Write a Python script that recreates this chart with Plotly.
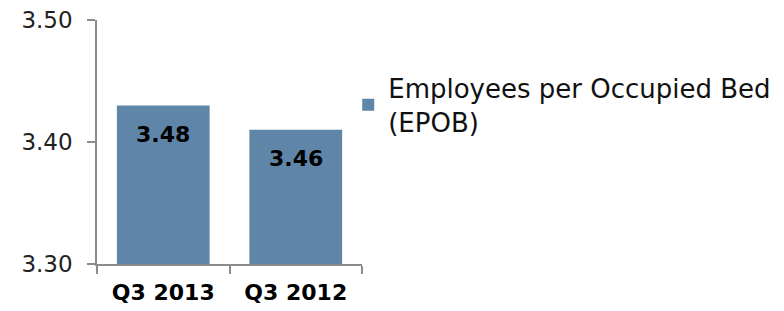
import plotly.graph_objects as go

categories = ["Q3 2013", "Q3 2012"]
bar_values = [3.43, 3.41]
bar_labels = ["3.48", "3.46"]
series_name = "Employees per Occupied Bed<br>(EPOB)"
y_ticks = [3.30, 3.40, 3.50]
y_tick_labels = ["3.30", "3.40", "3.50"]

FONT = "DejaVu Sans"
BAR_COLOR = "#5F86A8"
AXIS_COLOR = "#8C8C8C"

fig = go.Figure()
fig.add_trace(go.Bar(
    x=categories, y=bar_values, name=series_name,
    marker=dict(color=BAR_COLOR, line=dict(width=0)),
    width=0.7,
    showlegend=True,
))

for c, v, t in zip(categories, bar_values, bar_labels):
    fig.add_annotation(x=c, y=v, text="<b>%s</b>" % t, showarrow=False,
                       yanchor="middle", yshift=-29,
                       font=dict(family=FONT, size=22, color="#000000"))

fig.update_layout(
    width=776, height=303,
    margin=dict(l=89, r=422, t=12, b=47, autoexpand=False),
    paper_bgcolor="white", plot_bgcolor="white",
    font=dict(family=FONT, color="#000000"),
    bargap=0.3,
    legend=dict(x=0.948, y=0.818, xanchor="left", yanchor="top",
                font=dict(family=FONT, size=26, color="#111111"),
                itemwidth=30, tracegroupgap=0, bgcolor="rgba(0,0,0,0)"),
    xaxis=dict(
        showline=True, linecolor=AXIS_COLOR, linewidth=1.5,
        ticks="outside", ticklen=8, tickcolor=AXIS_COLOR, tickwidth=1.5,
        tickson="boundaries", ticklabelstandoff=8,
        tickfont=dict(family=FONT, size=22, color="#000000", weight="bold"),
        showgrid=False, zeroline=False, fixedrange=True, automargin=False,
        ticklabeloverflow="allow",
    ),
    yaxis=dict(
        range=[3.30, 3.50], tickvals=y_ticks, ticktext=y_tick_labels,
        showline=True, linecolor=AXIS_COLOR, linewidth=1.5,
        ticks="outside", ticklen=8, tickcolor=AXIS_COLOR, tickwidth=1.5,
        tickfont=dict(family=FONT, size=23, color="#222222"),
        ticklabelstandoff=10, ticklabeloverflow="allow",
        showgrid=False, zeroline=False, fixedrange=True, automargin=False,
    ),
)

fig.write_html("out.html")
